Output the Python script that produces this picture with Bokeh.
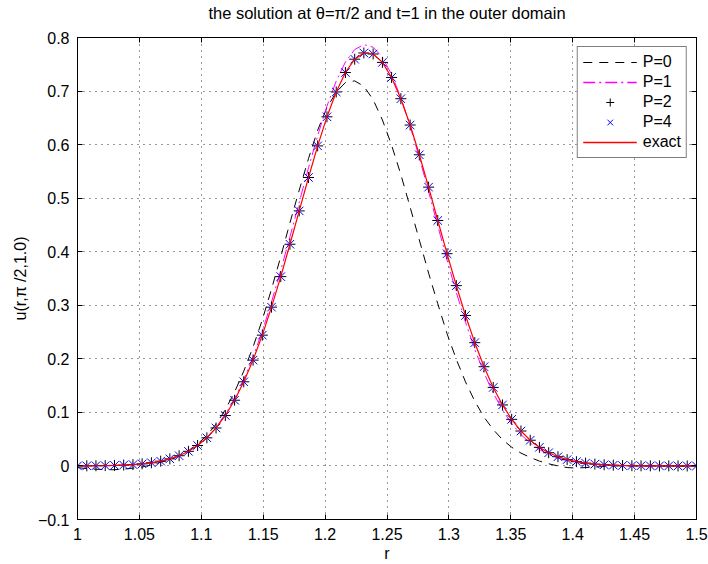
from bokeh.plotting import figure
from bokeh.models import FixedTicker, LinearAxis, Legend, LegendItem, Range1d
from bokeh.embed import file_html
from bokeh.resources import INLINE

# ---------------- data ----------------
r_vals = [1.0000, 1.0075, 1.0149, 1.0224, 1.0299, 1.0373, 1.0448, 1.0522, 1.0597, 1.0672,
          1.0746, 1.0821, 1.0896, 1.0970, 1.1045, 1.1119, 1.1194, 1.1269, 1.1343, 1.1418,
          1.1493, 1.1567, 1.1642, 1.1716, 1.1791, 1.1866, 1.1940, 1.2015, 1.2090, 1.2164,
          1.2239, 1.2313, 1.2388, 1.2463, 1.2537, 1.2612, 1.2687, 1.2761, 1.2836, 1.2910,
          1.2985, 1.3060, 1.3134, 1.3209, 1.3284, 1.3358, 1.3433, 1.3507, 1.3582, 1.3657,
          1.3731, 1.3806, 1.3881, 1.3955, 1.4030, 1.4104, 1.4179, 1.4254, 1.4328, 1.4403,
          1.4478, 1.4552, 1.4627, 1.4701, 1.4776, 1.4851, 1.4925, 1.5000]

p0_vals = [-0.003, -0.005, -0.006, -0.007, -0.007, -0.006, -0.004, -0.002, 0.002, 0.007,
           0.012, 0.019, 0.028, 0.041, 0.057, 0.078, 0.105, 0.138, 0.177, 0.222,
           0.273, 0.330, 0.391, 0.454, 0.515, 0.574, 0.627, 0.669, 0.698, 0.716,
           0.719, 0.709, 0.684, 0.646, 0.599, 0.544, 0.483, 0.422, 0.360, 0.303,
           0.247, 0.199, 0.157, 0.121, 0.091, 0.068, 0.049, 0.035, 0.024, 0.016,
           0.009, 0.004, 0.000, -0.003, -0.004, -0.003, -0.002, -0.001, 0.000, 0.000,
           0.000, 0.000, 0.000, 0.000, 0.000, 0.000, 0.000, 0.000]

p1_vals = [0.0001, 0.0002, 0.0003, 0.0006, 0.0009, 0.0015, 0.0024, 0.0038, 0.0058, 0.0088,
           0.0131, 0.0191, 0.0273, 0.0385, 0.0533, 0.0721, 0.0962, 0.1258, 0.1613, 0.2036,
           0.2517, 0.3061, 0.3656, 0.4278, 0.4925, 0.5567, 0.6168, 0.6719, 0.7187, 0.7542,
           0.7775, 0.7868, 0.7819, 0.7628, 0.7310, 0.6874, 0.6345, 0.5758, 0.5123, 0.4484,
           0.3846, 0.3238, 0.2684, 0.2178, 0.1735, 0.1362, 0.1046, 0.0789, 0.0586, 0.0426,
           0.0306, 0.0214, 0.0147, 0.0100, 0.0066, 0.0043, 0.0028, 0.0017, 0.0011, 0.0006,
           0.0004, 0.0002, 0.0001, 0.0001, 0.0000, 0.0000, 0.0000, 0.0000]

exact_vals = [0.0001, 0.0002, 0.0004, 0.0006, 0.0010, 0.0016, 0.0025, 0.0039, 0.0059, 0.0089,
              0.0132, 0.0191, 0.0273, 0.0382, 0.0525, 0.0709, 0.0942, 0.1227, 0.1571, 0.1976,
              0.2442, 0.2965, 0.3535, 0.4140, 0.4762, 0.5386, 0.5976, 0.6519, 0.6983, 0.7346,
              0.7595, 0.7711, 0.7692, 0.7535, 0.7254, 0.6857, 0.6366, 0.5810, 0.5206, 0.4583,
              0.3963, 0.3367, 0.2810, 0.2302, 0.1853, 0.1466, 0.1139, 0.0870, 0.0652, 0.0480,
              0.0347, 0.0247, 0.0172, 0.0118, 0.0080, 0.0053, 0.0034, 0.0022, 0.0014, 0.0008,
              0.0005, 0.0003, 0.0002, 0.0001, 0.0001, 0.0000, 0.0000, 0.0000]

p2_vals = list(exact_vals)
p4_vals = list(exact_vals)

x_ticks = [1.0, 1.05, 1.1, 1.15, 1.2, 1.25, 1.3, 1.35, 1.4, 1.45, 1.5]
x_tick_labels = ["1", "1.05", "1.1", "1.15", "1.2", "1.25", "1.3", "1.35", "1.4", "1.45", "1.5"]
y_ticks = [-0.1, 0.0, 0.1, 0.2, 0.3, 0.4, 0.5, 0.6, 0.7, 0.8]
y_tick_labels = ["\u22120.1", "0", "0.1", "0.2", "0.3", "0.4", "0.5", "0.6", "0.7", "0.8"]

series_labels = ["P=0", "P=1", "P=2", "P=4", "exact"]
title_text = "the solution at \u03b8=\u03c0/2 and t=1 in the outer domain"
x_label = "r"
y_label = "u(r,\u03c0 /2,1.0)"

# ---------------- figure ----------------
FONT = "Liberation Sans"
FS = "16px"
NAN = float("nan")

p = figure(width=708, height=564, output_backend="svg", toolbar_location=None,
           title=None, title_location=None,
           x_range=Range1d(1.0, 1.5), y_range=Range1d(-0.1, 0.8),
           min_border_left=77, min_border_right=12, min_border_top=36, min_border_bottom=44,
           background_fill_color="white", border_fill_color="white")

p.outline_line_color = "black"
p.outline_line_width = 1

def style_axis(ax, ticks, labels, show_labels=True):
    ax.ticker = FixedTicker(ticks=ticks)
    ax.major_label_overrides = {t: l for t, l in zip(ticks, labels)}
    ax.major_tick_in = 5
    ax.major_tick_out = 0
    ax.minor_tick_line_color = None
    ax.axis_line_color = "black"
    ax.major_tick_line_color = "black"
    ax.major_label_text_font = FONT
    ax.major_label_text_color = "black"
    ax.axis_label_text_font = FONT
    ax.axis_label_text_font_size = FS
    ax.axis_label_text_font_style = "normal"
    ax.axis_label_text_color = "black"
    if show_labels:
        ax.major_label_text_font_size = FS
        ax.major_label_standoff = 8
    else:
        ax.major_label_text_font_size = "0px"
        ax.major_label_standoff = 0

style_axis(p.xaxis[0], x_ticks, x_tick_labels)
style_axis(p.yaxis[0], y_ticks, y_tick_labels)
p.xaxis[0].axis_label = x_label
p.yaxis[0].axis_label = y_label
p.xaxis[0].axis_label_standoff = 2
p.yaxis[0].axis_label_standoff = 6

# top axis: inward ticks only; its axis label carries the chart title
top_ax = LinearAxis()
style_axis(top_ax, x_ticks, [""] * len(x_ticks), show_labels=False)
top_ax.axis_label = title_text
top_ax.axis_label_text_font_size = "16.5px"
top_ax.axis_label_standoff = 16
right_ax = LinearAxis()
style_axis(right_ax, y_ticks, [""] * len(y_ticks), show_labels=False)
p.add_layout(top_ax, "above")
p.add_layout(right_ax, "right")

for g in (p.xgrid[0], p.ygrid[0]):
    g.grid_line_color = "#333333"
    g.grid_line_dash = "1 5"
    g.grid_line_width = 1
p.xgrid[0].ticker = FixedTicker(ticks=x_ticks)
p.ygrid[0].ticker = FixedTicker(ticks=y_ticks)

# ---------------- series ----------------
r0 = p.line(r_vals, p0_vals, line_color="black", line_dash="9 7", line_width=1)
r1 = p.line(r_vals, p1_vals, line_color="#ff00ff", line_dash="12 4 2 4", line_width=1)
r2 = p.scatter(r_vals, p2_vals, marker="cross", size=11, line_color="black", line_width=1)
r4 = p.scatter(r_vals, p4_vals, marker="x", size=12, line_color="#0000ff", line_width=1)
re = p.line(r_vals, exact_vals, line_color="#ff0000", line_width=1.2)

# legend-only proxies (never drawn in the plot: NaN coordinates)
px0 = p.segment(x0=[NAN], y0=[NAN], x1=[NAN], y1=[NAN], line_color="black",
                line_dash="9 7", line_width=1)
px1 = p.segment(x0=[NAN], y0=[NAN], x1=[NAN], y1=[NAN], line_color="#ff00ff",
                line_dash="12 4 2 4", line_width=1.6)
pxe = p.segment(x0=[NAN], y0=[NAN], x1=[NAN], y1=[NAN], line_color="#ff0000",
                line_width=1.4)

legend = Legend(items=[LegendItem(label=series_labels[0], renderers=[px0]),
                       LegendItem(label=series_labels[1], renderers=[px1]),
                       LegendItem(label=series_labels[2], renderers=[r2]),
                       LegendItem(label=series_labels[3], renderers=[r4]),
                       LegendItem(label=series_labels[4], renderers=[pxe])],
                location="top_right")
legend.border_line_color = "black"
legend.border_line_width = 1
legend.background_fill_color = "white"
legend.background_fill_alpha = 1
legend.label_text_font = FONT
legend.label_text_font_size = FS
legend.label_text_color = "black"
legend.glyph_width = 54
legend.glyph_height = 20
legend.label_height = 20
legend.label_standoff = 6
legend.padding = 5
legend.spacing = 0
legend.margin = 9
p.add_layout(legend)

open("out.html", "w").write(file_html(p, INLINE))
